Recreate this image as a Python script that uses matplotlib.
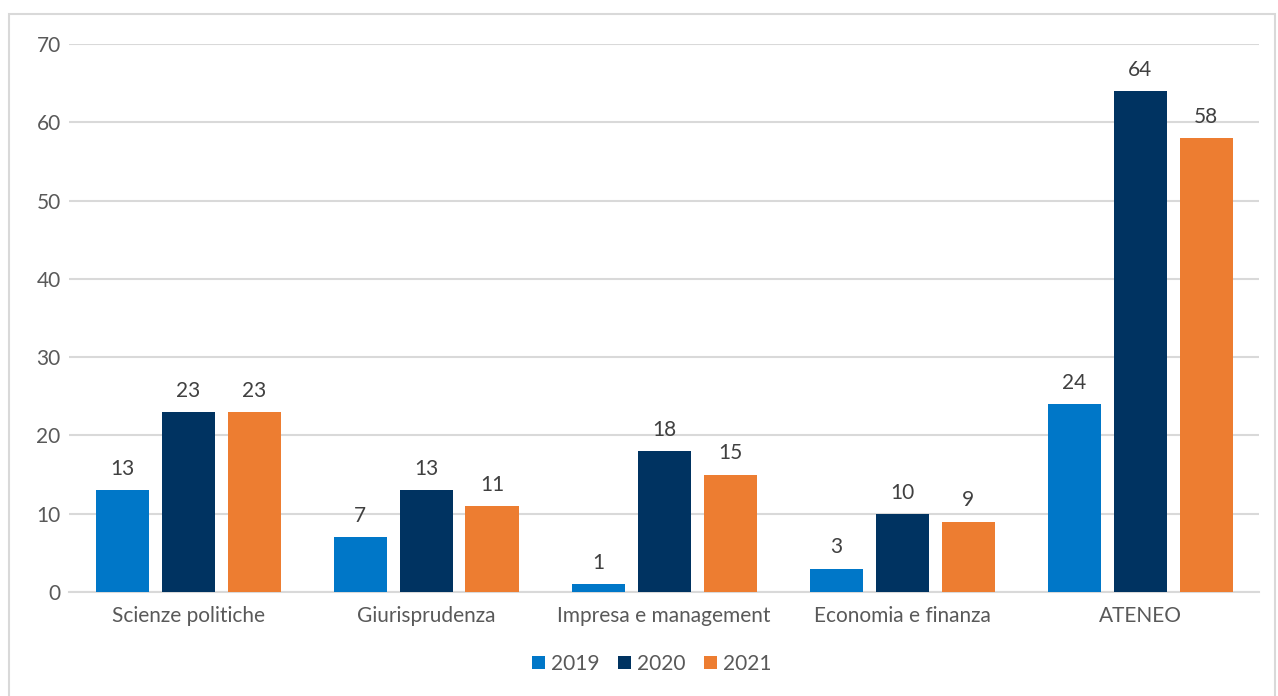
import numpy as np
import matplotlib
matplotlib.use("Agg")
import matplotlib.pyplot as plt
from matplotlib.patches import Rectangle

categories = ["Scienze politiche", "Giurisprudenza", "Impresa e management",
              "Economia e finanza", "ATENEO"]
years = ["2019", "2020", "2021"]
values_2019 = [13, 7, 1, 3, 24]
values_2020 = [23, 13, 18, 10, 64]
values_2021 = [23, 11, 15, 9, 58]

colors = ["#0077C8", "#003361", "#ED7D31"]
text_color = "#595959"

plt.rcParams['font.family'] = ['Lato', 'DejaVu Sans']

fig = plt.figure(figsize=(12.78, 6.96), dpi=100)
ax = fig.add_axes([69 / 1278, 1 - 592 / 696, (1259 - 69) / 1278, (592 - 44) / 696])

# light frame around the chart area
fig.patches.append(Rectangle((9 / 1278, -0.01), (1275 - 9) / 1278, 1 - 14 / 696 + 0.01,
                             transform=fig.transFigure, fill=False,
                             edgecolor="#D9D9D9", linewidth=1.5))

x = np.arange(len(categories))
width = 53 / 238
step = 66 / 238
fs = 15

for i, (vals, col, yr) in enumerate(zip([values_2019, values_2020, values_2021], colors, years)):
    bars = ax.bar(x + (i - 1) * step, vals, width, color=col, label=yr, zorder=3)
    for b, v in zip(bars, vals):
        ax.annotate(str(v), (b.get_x() + b.get_width() / 2, v),
                    xytext=(0, 8), textcoords="offset points",
                    ha="center", va="bottom", fontsize=fs, color="#404040")

ax.set_xlim(-0.5, len(categories) - 0.5)
ax.set_ylim(0, 70)
ax.set_yticks(range(0, 71, 10))
ax.yaxis.grid(True, color="#D9D9D9", linewidth=1.5, zorder=0)
ax.set_axisbelow(True)
for s in ["top", "right", "left"]:
    ax.spines[s].set_visible(False)
ax.spines["bottom"].set_color("#D9D9D9")
ax.spines["bottom"].set_linewidth(1.5)
ax.tick_params(axis="both", length=0, labelsize=fs, labelcolor=text_color)
ax.tick_params(axis="y", pad=6)
ax.tick_params(axis="x", pad=10)
ax.set_xticks(x)
ax.set_xticklabels(categories)

leg = fig.legend(loc="center", bbox_to_anchor=(652 / 1278, 1 - 664 / 696), ncol=3,
                 frameon=False, fontsize=fs, handlelength=0.6, handleheight=0.6,
                 handletextpad=0.3, columnspacing=0.9)
for t in leg.get_texts():
    t.set_color(text_color)

fig.savefig("out.png", dpi=100)
